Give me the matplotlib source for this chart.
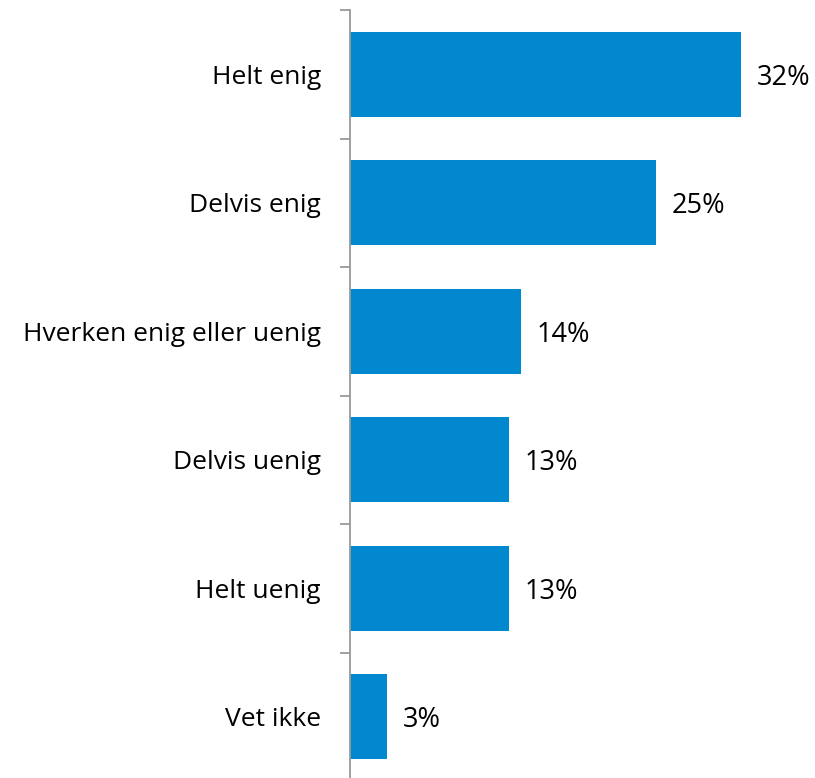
import matplotlib
matplotlib.use("Agg")
import matplotlib.pyplot as plt
import numpy as np

# survey answers, top to bottom
categories = ["Helt enig", "Delvis enig", "Hverken enig eller uenig",
              "Delvis uenig", "Helt uenig", "Vet ikke"]
values = [32, 25, 14, 13, 13, 3]

bar_color = "#0288CE"
axis_color = "#9A9A9A"

plt.rcParams['font.family'] = ['Open Sans', 'DejaVu Sans']

W, H = 815, 778
fig = plt.figure(figsize=(W / 100, H / 100), dpi=100)
# axes spans from x=350 to right edge, y=10 to just below the bottom
ax = fig.add_axes([350 / W, 1 - 781 / H, 1 - 350 / W, 771 / H])

n = len(categories)
y = np.arange(n)
ax.barh(y, values, height=0.66, color=bar_color, zorder=2)

ax.set_ylim(n - 0.5, -0.5)
ax.set_xlim(0, 465 / 12.22)

# labels at category centers, tick marks at boundaries
ax.set_yticks(y)
ax.set_yticklabels(categories, fontsize=19, va='center_baseline')
ax.tick_params(axis='y', which='major', length=0, pad=21)
ax.set_yticks(np.arange(n + 1) - 0.5, minor=True)
ax.tick_params(axis='y', which='minor', length=7.2, width=1.3, color=axis_color)

ax.set_xticks([])
for side in ['top', 'right', 'bottom']:
    ax.spines[side].set_visible(False)
ax.spines['left'].set_color(axis_color)
ax.spines['left'].set_linewidth(1.3)

for yi, v in zip(y, values):
    ax.text(v + 1.3, yi, f"{v}%", va='center_baseline', ha='left', fontsize=19.5)

fig.savefig("out.png", dpi=100)
